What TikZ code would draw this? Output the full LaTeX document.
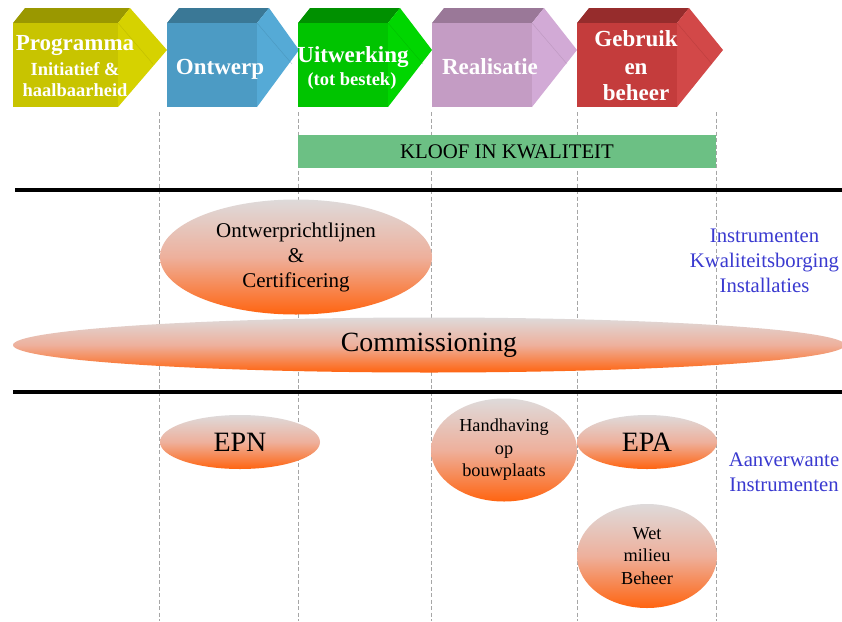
\documentclass[tikz,border=0pt]{standalone}
\usepackage{fontspec}
\setmainfont{Liberation Serif}
\usetikzlibrary{shapes.geometric}
\definecolor{yfront}{HTML}{C8C400}
\definecolor{ytop}{HTML}{9A9800}
\definecolor{yside}{HTML}{D6D200}
\definecolor{bfront}{HTML}{4C9BC4}
\definecolor{btop}{HTML}{3A7896}
\definecolor{bside}{HTML}{55AAD6}
\definecolor{gfront}{HTML}{00C400}
\definecolor{gtop}{HTML}{009000}
\definecolor{gside}{HTML}{00D600}
\definecolor{pfront}{HTML}{C49CC4}
\definecolor{ptop}{HTML}{9A7898}
\definecolor{pside}{HTML}{D2AAD6}
\definecolor{rfront}{HTML}{C43C3C}
\definecolor{rtop}{HTML}{962C2C}
\definecolor{rside}{HTML}{D24848}
\definecolor{kloof}{HTML}{6CC084}
\definecolor{blobtop}{HTML}{DEDADA}
\definecolor{blobmid}{HTML}{EEB09C}
\definecolor{blobbot}{HTML}{FF6410}
\definecolor{instblue}{HTML}{3A3AD0}
\newcommand\phasearrow[6]{%
  \fill[#4] (#1,23) -- ({#1+12},8) -- ({#2+12},8) -- (#2,23) -- cycle;
  \fill[#5] (#2,23) -- ({#2+12},8) -- (#3,50) -- (#2,107) -- cycle;
  \fill[#6] (#1,23) rectangle (#2,107);
  \draw[#6!80!black, opacity=.35, line width=.5pt] (#2,23) -- ({#2+35},64);
}
\begin{document}
\begin{tikzpicture}[x=1pt,y=-1pt,
  phasetitle/.style={text=white, font=\bfseries\fontsize{23}{26}\selectfont, anchor=base, inner sep=0},
  phasesub/.style={text=white, font=\bfseries\fontsize{18.5}{22}\selectfont, anchor=base, inner sep=0},
  guide/.style={draw=gray!70, line width=.7pt, dash pattern=on 4pt off 2.5pt},
  divider/.style={line width=4pt, black},
  blob/.style={ellipse, inner sep=0, align=center, top color=blobtop, bottom color=blobbot, middle color=blobmid, text=black},
  bluetext/.style={text=instblue, align=center, font=\fontsize{20.7}{25}\selectfont}
]
\useasboundingbox (0,0) rectangle (842,621);
\fill[white] (0,0) rectangle (842,621);

% dashed guides
\foreach \gx in {159,298,431,577,716} \draw[guide] (\gx,112) -- (\gx,621);

% phase arrows
\phasearrow{13}{118}{167}{ytop}{yside}{yfront}
\phasearrow{167}{257}{299}{btop}{bside}{bfront}
\phasearrow{298}{388}{432}{gtop}{gside}{gfront}
\phasearrow{432}{532}{577}{ptop}{pside}{pfront}
\phasearrow{577}{677}{723}{rtop}{rside}{rfront}

\node[phasetitle] (prog1) at (75,50) {Programma};
\node[phasesub] (prog2) at (75,75) {Initiatief \&};
\node[phasesub] (prog3) at (75,96) {haalbaarheid};
\node[phasetitle] (ontw) at (220,74) {Ontwerp};
\node[phasetitle] (uitw1) at (353,62) {Uitwerking};
\node[phasesub] (uitw2) at (352,85) {(tot bestek)};
\node[phasetitle] (real) at (490,74) {Realisatie};
\node[phasetitle] (gebr1) at (636,46) {Gebruik};
\node[phasetitle] (gebr2) at (636,74) {en};
\node[phasetitle] (gebr3) at (636,100) {beheer};

% kloof bar
\node[fill=kloof, minimum width=418pt, minimum height=33pt, inner sep=0,
      font=\fontsize{20.8}{23}\selectfont] (kloof) at (507,151.5) {KLOOF IN KWALITEIT};

% dividers
\draw[divider] (15,190) -- (842,190);
\draw[divider] (13,392) -- (842,392);

% instruments
\node[blob, minimum width=272pt, minimum height=115pt, font=\fontsize{21}{25}\selectfont]
  (richt) at (296,257) {Ontwerprichtlijnen\\\&\\Certificering};
\node[blob, minimum width=832pt, minimum height=55pt, font=\fontsize{27.8}{30}\selectfont]
  (comm) at (429,345) {Commissioning};
\node[blob, minimum width=160pt, minimum height=54pt, font=\fontsize{28}{30}\selectfont]
  (epn) at (240,442) {EPN};
\node[blob, minimum width=146pt, minimum height=103pt, font=\fontsize{18.3}{22.5}\selectfont]
  (handh) at (504,450) {Handhaving\\op\\bouwplaats};
\node[blob, minimum width=140pt, minimum height=54pt, font=\fontsize{28}{30}\selectfont]
  (epa) at (647,442) {EPA};
\node[blob, minimum width=140pt, minimum height=104pt, font=\fontsize{18.3}{22.5}\selectfont]
  (wet) at (647,556) {Wet\\milieu\\Beheer};

\node[bluetext] (inst) at (764.5,261) {Instrumenten\\Kwaliteitsborging\\Installaties};
\node[bluetext] (aanv) at (784,472) {Aanverwante\\Instrumenten};
\end{tikzpicture}
\end{document}
